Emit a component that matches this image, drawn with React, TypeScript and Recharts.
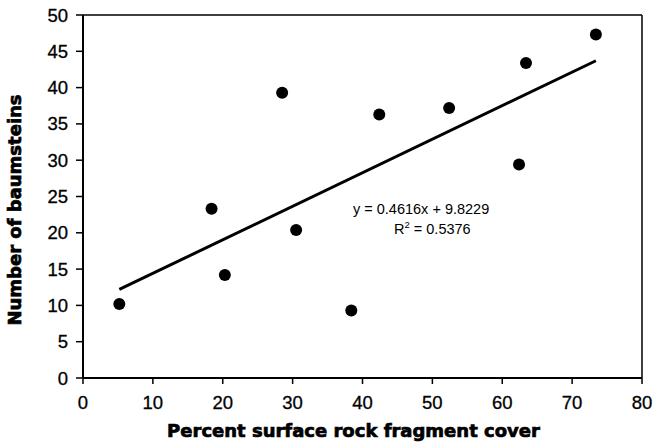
import React from "react";
import {
  ScatterChart,
  Scatter,
  XAxis,
  YAxis,
  ReferenceLine,
  Customized,
  Label,
} from "recharts";

// rock fragment cover (%) vs baumstein counts
const coverPct = [5.2, 18.4, 20.3, 28.5, 30.5, 38.4, 42.4, 52.4, 62.4, 63.4, 73.4];
const baumsteins = [10.2, 23.3, 14.2, 39.3, 20.4, 9.3, 36.3, 37.2, 29.4, 43.4, 47.3];

// fitted line endpoints (y = 0.4616x + 9.8229)
const trendX = [5.2, 73.4];
const trendY = [12.2, 43.7];

const xTicks = [0, 10, 20, 30, 40, 50, 60, 70, 80];
const yTicks = [0, 5, 10, 15, 20, 25, 30, 35, 40, 45, 50];

const equationText = "y = 0.4616x + 9.8229";
const rSquaredText = "0.5376";

const points = coverPct.map((x, i) => ({ x, y: baumsteins[i] }));
const trend = trendX.map((x, i) => ({ x, y: trendY[i] }));

const SANS = "'Liberation Sans', Arial, sans-serif";
const TITLE = "'DejaVu Sans', sans-serif";

const tickStyle = {
  fontSize: 18.5,
  fill: "#000",
  fontFamily: SANS,
  stroke: "#000",
  strokeWidth: 0.3,
};

const titleStyle = {
  fontSize: 18,
  fontWeight: "bold",
  fontFamily: TITLE,
  fill: "#000",
  stroke: "#000",
  strokeWidth: 0.7,
};

function Dot(props: any) {
  return <circle cx={props.cx} cy={props.cy} r={6} fill="#000" />;
}

function Annotations() {
  return (
    <g>
      <text x={353} y={214} fontSize={14.5} fontFamily={SANS} fill="#000">
        {equationText}
      </text>
      <text x={394} y={234} fontSize={14.5} fontFamily={SANS} fill="#000">
        R
        <tspan fontSize={9.5} dy={-6}>
          2
        </tspan>
        <tspan dy={6}>{" = " + rSquaredText}</tspan>
      </text>
      <text
        x={21}
        y={210}
        transform="rotate(-90 21 210)"
        textAnchor="middle"
        style={titleStyle}
      >
        Number of baumsteins
      </text>
    </g>
  );
}

export default function App() {
  return (
    <div style={{ position: "absolute", left: 0, top: 0, background: "#fff" }}>
      <ScatterChart
        width={667}
        height={444}
        margin={{ top: 15, right: 25, bottom: 0, left: 0 }}
      >
        <XAxis
          type="number"
          dataKey="x"
          domain={[0, 80]}
          ticks={xTicks}
          height={66}
          tickSize={6}
          tickMargin={12}
          axisLine={{ stroke: "#000", strokeWidth: 2 }}
          tickLine={{ stroke: "#000", strokeWidth: 1.5 }}
          tick={tickStyle}
        >
          <Label
            value="Percent surface rock fragment cover"
            position="insideBottom"
            offset={7}
            dx={-9}
            style={titleStyle}
          />
        </XAxis>
        <YAxis
          type="number"
          dataKey="y"
          domain={[0, 50]}
          ticks={yTicks}
          width={83}
          tickSize={7}
          tickMargin={8}
          axisLine={{ stroke: "#000", strokeWidth: 2 }}
          tickLine={{ stroke: "#000", strokeWidth: 1.5 }}
          tick={tickStyle}
        />
        <ReferenceLine y={50} stroke="#000" strokeWidth={1.5} />
        <ReferenceLine x={80} stroke="#000" strokeWidth={1.5} />
        <Scatter
          data={trend}
          line={{ stroke: "#000", strokeWidth: 3 }}
          shape={() => <g />}
          isAnimationActive={false}
        />
        <Scatter data={points} shape={Dot} isAnimationActive={false} />
        <Customized component={<Annotations />} />
      </ScatterChart>
    </div>
  );
}
